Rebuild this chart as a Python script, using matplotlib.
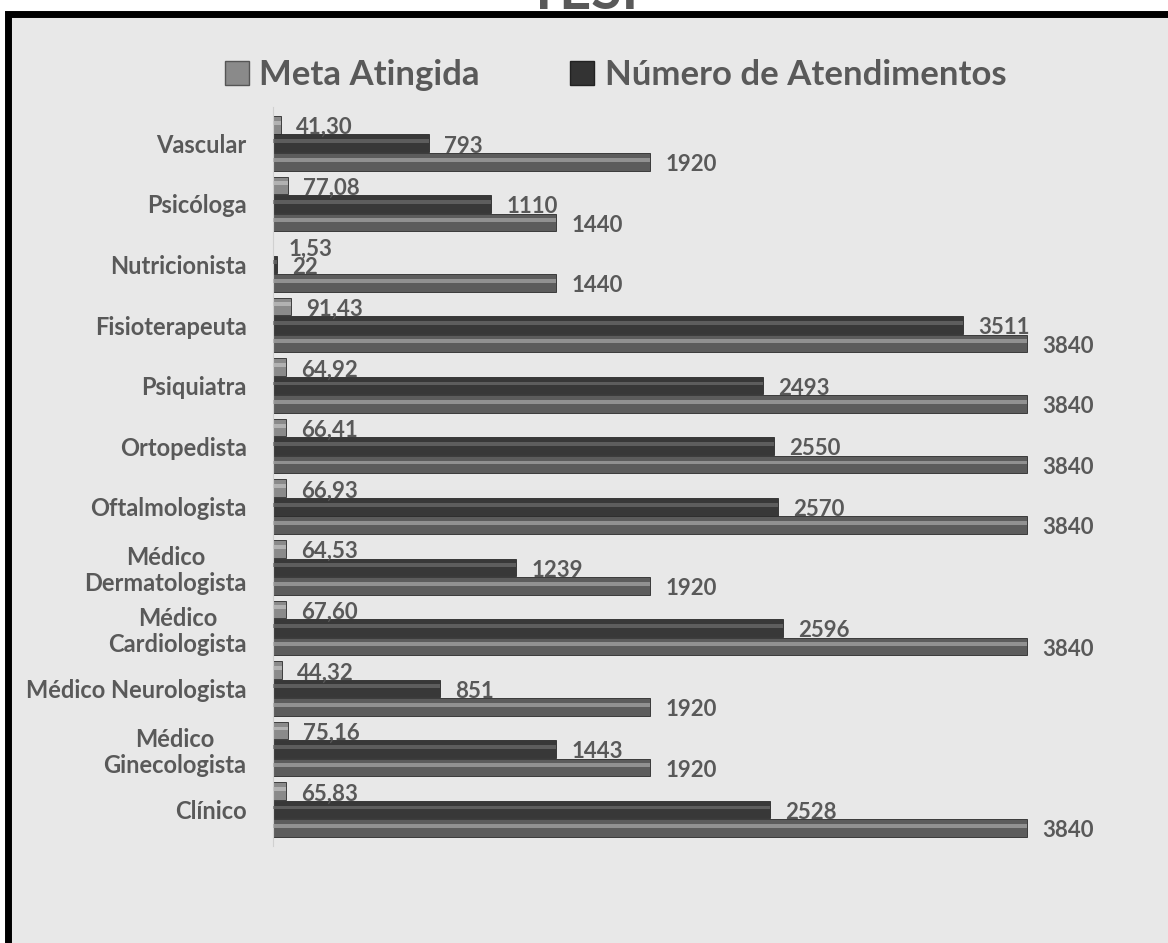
import numpy as np
import matplotlib.pyplot as plt
from matplotlib.patches import Rectangle, Patch

# categories from bottom to top
categorias = ['Clínico', 'Médico\nGinecologista', 'Médico Neurologista',
              'Médico\nCardiologista', 'Médico\nDermatologista', 'Oftalmologista',
              'Ortopedista', 'Psiquiatra', 'Fisioterapeuta', 'Nutricionista',
              'Psicóloga', 'Vascular']
meta_atingida = [65.83, 75.16, 44.32, 67.60, 64.53, 66.93, 66.41, 64.92, 91.43, 1.53, 77.08, 41.30]
atendimentos = [2528, 1443, 851, 2596, 1239, 2570, 2550, 2493, 3511, 22, 1110, 793]
meta = [3840, 1920, 1920, 3840, 1920, 3840, 3840, 3840, 3840, 1440, 1440, 1920]

txt = '#595959'
plt.rcParams['font.family'] = ['Lato', 'DejaVu Sans']
plt.rcParams['font.weight'] = 'bold'

fig = plt.figure(figsize=(11.68, 9.43), dpi=100, facecolor='white')

# black frame with light gray panel
fig.patches.append(Rectangle((8 / 1168, -0.05), 1.1, 1 - 14 / 943 + 0.05,
                             transform=fig.transFigure, facecolor='#e8e8e8',
                             edgecolor='black', linewidth=5, zorder=-5))

# title, mostly cut off at the top
fig.text(0.505, 1 - 9 / 943, 'TESF', ha='center', va='baseline',
         fontsize=40, color=txt, fontweight='bold')

ax = fig.add_axes([273 / 1168, 0.1029, 825 / 1168, 0.7837])
ax.set_facecolor('none')
ax.set_zorder(2)

y = np.arange(len(categorias))
off = 0.305
h = 0.29

series = [
    (meta_atingida, off, '#8a8a8a', '#c4c4c4', lambda v: f'{v:.2f}'.replace('.', ',')),
    (atendimentos, 0.0, '#383838', '#6e6e6e', lambda v: f'{v}'),
    (meta, -off, '#5c5c5c', '#a8a8a8', lambda v: f'{v}'),
]

for vals, dy, col, hi, fmt in series:
    ax.barh(y + dy, vals, height=h, color=col, edgecolor='#2a2a2a', linewidth=0.6, zorder=2)
    # glossy stripe
    ax.barh(y + dy + h * 0.12, vals, height=h * 0.22, color=hi, alpha=0.7, linewidth=0, zorder=3)
    for yi, v in zip(y, vals):
        ax.annotate(fmt(v), (v, yi + dy), xytext=(11, -2), textcoords='offset points',
                    ha='left', va='center', fontsize=16, color=txt, fontweight='bold')

ax.set_xlim(0, 4200)
ax.set_ylim(-0.6, 11.6)
ax.set_xticks([])
ax.set_yticks(y)
ax.set_yticklabels(categorias, fontsize=17, color=txt, fontweight='bold',
                   multialignment='center', linespacing=1.15)
ax.tick_params(axis='y', length=0, pad=19)
for s in ['top', 'right', 'bottom']:
    ax.spines[s].set_visible(False)
ax.spines['left'].set_color('#d0d0d0')

handles = [Patch(facecolor='#8a8a8a', edgecolor='#555555'),
           Patch(facecolor='#333333', edgecolor='#222222')]
fig.legend(handles, ['Meta Atingida', 'Número de Atendimentos'], loc='center',
           bbox_to_anchor=(0.527, 1 - 75 / 943), ncol=2, frameon=False,
           prop={'size': 25, 'weight': 'bold'}, labelcolor=txt,
           handlelength=0.7, handleheight=0.7, handletextpad=0.3, columnspacing=2.6)

fig.savefig('out.png', dpi=100)
